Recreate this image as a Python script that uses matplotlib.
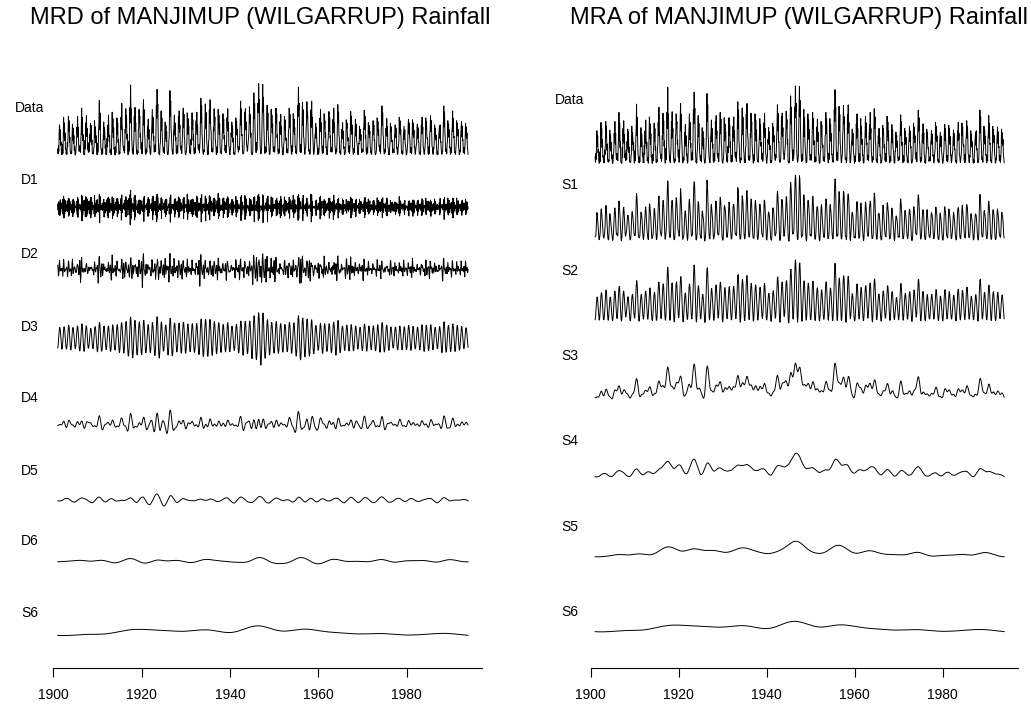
import numpy as np
import matplotlib
matplotlib.use('Agg')
import matplotlib.pyplot as plt
from math import comb

plt.rcParams['font.family'] = ['Liberation Sans', 'DejaVu Sans']

# monthly rainfall (mm), Jan..Dec, one row per year from 1901
start_year = 1901
monthly_rain = [
    [30, 8, 45, 20, 110, 141, 75, 120, 48, 62, 12, 4],
    [4, 52, 10, 78, 176, 90, 150, 70, 104, 30, 35, 8],
    [22, 6, 60, 40, 95, 180, 112, 160, 60, 85, 18, 12],
    [8, 18, 12, 90, 144, 70, 126, 55, 92, 24, 40, 6],
    [2, 12, 40, 55, 130, 102, 180, 84, 130, 45, 20, 30],
    [45, 20, 15, 80, 118, 218, 98, 175, 70, 96, 14, 5],
    [6, 4, 70, 30, 150, 96, 183, 88, 124, 28, 44, 18],
    [15, 60, 20, 96, 70, 148, 62, 138, 50, 72, 10, 8],
    [10, 8, 35, 44, 160, 84, 132, 108, 58, 90, 26, 4],
    [55, 14, 28, 110, 150, 253, 120, 196, 96, 40, 30, 20],
    [5, 30, 10, 62, 96, 154, 74, 128, 102, 34, 48, 6],
    [12, 6, 80, 40, 140, 88, 186, 110, 66, 92, 14, 22],
    [28, 4, 22, 100, 199, 108, 170, 82, 128, 30, 36, 10],
    [3, 40, 14, 58, 90, 173, 96, 150, 60, 74, 12, 6],
    [18, 10, 62, 84, 176, 120, 240, 140, 112, 52, 40, 24],
    [40, 12, 30, 120, 104, 215, 130, 182, 76, 98, 20, 4],
    [8, 66, 20, 96, 220, 150, 324, 190, 214, 80, 48, 16],
    [30, 6, 44, 70, 180, 110, 221, 120, 150, 56, 22, 10],
    [6, 22, 12, 118, 126, 212, 150, 180, 84, 102, 36, 28],
    [60, 8, 36, 80, 196, 256, 140, 210, 104, 74, 18, 6],
    [10, 30, 16, 52, 134, 88, 167, 76, 120, 36, 44, 12],
    [4, 10, 70, 96, 160, 212, 104, 176, 70, 88, 16, 20],
    [24, 50, 18, 120, 230, 170, 304, 200, 236, 96, 40, 8],
    [12, 4, 48, 60, 124, 205, 116, 172, 90, 54, 30, 16],
    [36, 14, 10, 100, 154, 80, 138, 64, 110, 28, 12, 4],
    [6, 24, 64, 90, 216, 298, 180, 250, 120, 100, 46, 20],
    [20, 6, 30, 110, 132, 186, 94, 150, 68, 84, 14, 8],
    [8, 46, 14, 64, 180, 126, 205, 108, 140, 44, 34, 24],
    [44, 10, 52, 96, 150, 218, 128, 190, 86, 70, 20, 6],
    [4, 18, 20, 72, 196, 98, 170, 104, 136, 52, 42, 12],
    [26, 8, 74, 50, 130, 196, 120, 164, 70, 96, 16, 8],
    [10, 36, 12, 116, 160, 114, 199, 96, 142, 40, 30, 26],
    [50, 12, 40, 84, 190, 263, 150, 228, 100, 80, 24, 10],
    [6, 26, 18, 100, 144, 237, 126, 198, 124, 58, 44, 6],
    [20, 6, 68, 74, 210, 150, 256, 170, 120, 104, 20, 18],
    [34, 16, 24, 128, 112, 215, 140, 178, 80, 60, 34, 4],
    [6, 40, 14, 66, 212, 124, 186, 98, 146, 48, 18, 12],
    [16, 8, 58, 90, 122, 192, 104, 168, 76, 92, 28, 20],
    [46, 12, 22, 70, 174, 128, 215, 112, 150, 42, 40, 8],
    [4, 20, 40, 104, 90, 154, 84, 136, 62, 78, 12, 6],
    [14, 6, 18, 60, 173, 100, 156, 94, 120, 36, 30, 16],
    [40, 26, 56, 112, 170, 250, 140, 214, 92, 96, 22, 8],
    [8, 10, 26, 74, 200, 124, 215, 118, 154, 50, 44, 20],
    [24, 52, 70, 96, 132, 224, 150, 188, 84, 104, 16, 6],
    [10, 6, 20, 124, 206, 288, 170, 240, 136, 70, 38, 14],
    [60, 24, 46, 90, 240, 196, 330, 220, 256, 110, 50, 20],
    [8, 14, 34, 130, 210, 327, 200, 268, 140, 90, 30, 10],
    [26, 40, 16, 66, 170, 231, 118, 196, 100, 64, 44, 6],
    [6, 8, 60, 104, 212, 130, 186, 104, 146, 40, 18, 24],
    [40, 16, 26, 80, 140, 218, 150, 192, 82, 98, 26, 8],
    [10, 30, 12, 98, 156, 100, 189, 96, 134, 46, 36, 4],
    [4, 6, 52, 60, 180, 116, 164, 90, 70, 80, 14, 18],
    [30, 12, 30, 116, 126, 218, 130, 190, 114, 56, 30, 8],
    [6, 46, 20, 74, 192, 110, 168, 96, 128, 40, 42, 12],
    [18, 8, 56, 100, 230, 180, 314, 210, 240, 100, 28, 16],
    [50, 14, 24, 84, 170, 244, 140, 210, 90, 76, 36, 6],
    [8, 34, 40, 126, 150, 247, 170, 200, 130, 58, 20, 22],
    [26, 6, 16, 70, 210, 130, 250, 150, 176, 96, 46, 8],
    [6, 20, 60, 92, 104, 148, 80, 130, 60, 40, 14, 4],
    [34, 10, 22, 64, 170, 110, 212, 120, 150, 76, 30, 12],
    [10, 44, 14, 110, 192, 124, 160, 84, 104, 36, 40, 6],
    [4, 8, 64, 76, 130, 202, 112, 174, 82, 90, 18, 20],
    [38, 16, 30, 120, 166, 104, 218, 130, 150, 50, 34, 8],
    [8, 30, 18, 70, 160, 234, 150, 200, 98, 84, 22, 12],
    [20, 6, 48, 96, 120, 88, 151, 76, 112, 34, 40, 4],
    [6, 14, 20, 60, 164, 126, 150, 100, 68, 82, 16, 18],
    [44, 10, 36, 104, 202, 116, 178, 98, 140, 46, 30, 6],
    [10, 32, 14, 80, 112, 167, 90, 144, 74, 60, 42, 10],
    [4, 6, 56, 54, 135, 78, 120, 70, 96, 30, 14, 16],
    [30, 18, 20, 116, 146, 208, 120, 180, 80, 92, 26, 6],
    [8, 36, 12, 64, 151, 100, 138, 84, 112, 38, 36, 12],
    [20, 6, 44, 88, 108, 160, 96, 140, 68, 74, 12, 4],
    [6, 14, 26, 70, 173, 110, 156, 92, 120, 42, 40, 20],
    [48, 10, 60, 120, 160, 228, 140, 196, 94, 86, 26, 8],
    [8, 28, 16, 74, 126, 92, 170, 88, 132, 40, 34, 6],
    [14, 4, 40, 58, 148, 110, 132, 76, 64, 70, 12, 16],
    [30, 16, 14, 94, 100, 141, 84, 126, 92, 34, 38, 6],
    [6, 34, 50, 66, 176, 106, 160, 96, 120, 60, 18, 10],
    [20, 6, 12, 84, 110, 135, 74, 118, 58, 46, 30, 4],
    [4, 14, 36, 62, 130, 167, 100, 150, 90, 70, 14, 18],
    [36, 10, 20, 100, 164, 96, 150, 84, 116, 36, 40, 6],
    [8, 30, 46, 56, 108, 144, 80, 128, 62, 64, 16, 10],
    [16, 4, 18, 90, 140, 100, 176, 104, 130, 40, 34, 14],
    [6, 22, 40, 66, 173, 120, 156, 90, 76, 82, 20, 6],
    [40, 8, 14, 104, 122, 183, 110, 160, 112, 44, 38, 16],
    [6, 36, 30, 58, 141, 86, 126, 72, 94, 56, 12, 4],
    [18, 6, 48, 78, 104, 132, 80, 141, 60, 66, 30, 10],
    [6, 16, 20, 96, 170, 228, 132, 200, 104, 80, 22, 18],
    [30, 8, 52, 64, 160, 96, 144, 84, 118, 38, 40, 6],
    [8, 34, 14, 110, 130, 205, 110, 170, 84, 88, 16, 12],
    [16, 6, 40, 60, 160, 100, 146, 90, 120, 42, 32, 4],
    [6, 24, 18, 86, 120, 157, 88, 136, 70, 74, 14, 20],
    [36, 8, 30, 64, 148, 90, 132, 80, 104, 40, 26, 6],
]

levels = 6
left_labels = ['Data', 'D1', 'D2', 'D3', 'D4', 'D5', 'D6', 'S6']
right_labels = ['Data', 'S1', 'S2', 'S3', 'S4', 'S5', 'S6']
tick_years = [1900, 1920, 1940, 1960, 1980]
titles = ['MRD of MANJIMUP (WILGARRUP) Rainfall', 'MRA of MANJIMUP (WILGARRUP) Rainfall']


def la8_gain(f):
    # squared gain of the MODWT LA(8) scaling filter
    c = np.cos(np.pi * f) ** 2
    s = np.sin(np.pi * f) ** 2
    return c ** 4 * sum(comb(3 + l, l) * s ** l for l in range(4))


x = np.array(monthly_rain, dtype=float).ravel()
N = len(x)
t = start_year + np.arange(N) / 12.0
freq = np.fft.fftfreq(N)
X = np.fft.fft(x)

details, smooths = [], []
acc = np.ones(N)
for j in range(1, levels + 1):
    g = la8_gain(2 ** (j - 1) * freq)
    details.append(np.real(np.fft.ifft((1 - g) * acc * X)))
    acc = acc * g
    smooths.append(np.real(np.fft.ifft(acc * X)))

left_series = [x] + details + [smooths[-1]]
right_series = [x] + smooths

# layout in figure pixels (from top)
W, H = 1031, 704
axis_y = 668
left_rows = [138, 207, 269, 338, 424, 500, 561, 632]
left_lab_y = [108, 180, 254, 327, 398, 471, 541, 613]
left_gain = [1, 1.1, 2.2, 1, 1.8, 1.2, 1.2, 1]
right_rows = [145, 222, 303, 388, 470, 552, 628]
right_lab_y = [100, 185, 271, 356, 441, 527, 612]
right_gain = [1, 1, 1, 1.6, 1.3, 1.1, 1]
px_per_mm = [0.218, 0.237]

fig = plt.figure(figsize=(W / 100, H / 100), dpi=100)

panels = [
    (53.3, 481.7, left_series, left_labels, left_rows, left_gain, left_lab_y, 30, 260),
    (590.7, 1017.7, right_series, right_labels, right_rows, right_gain, right_lab_y, 570, 799),
]
for k, (x0, x1, series, labels, rows, gains, lab_y, lab_x, title_x) in enumerate(panels):
    ax = fig.add_axes([x0 / W, (H - axis_y) / H, (x1 - x0) / W, (axis_y - 50) / H])
    ax.set_xlim(1900, 1997)
    ax.set_ylim(axis_y, 50)
    for sp in ['top', 'left', 'right']:
        ax.spines[sp].set_visible(False)
    ax.spines['bottom'].set_linewidth(0.8)
    ax.set_yticks([])
    ax.set_xticks(tick_years)
    ax.tick_params(axis='x', length=6.5, width=0.8, labelsize=10, pad=8)
    for s, row, gn in zip(series, rows, gains):
        ax.plot(t, row - gn * px_per_mm[k] * (s - s.mean()), color='black', lw=0.7)
    for lab, ly in zip(labels, lab_y):
        fig.text(lab_x / W, 1 - ly / H, lab, ha='center', va='center', fontsize=10)
    fig.text(title_x / W, 1 - 18 / H, titles[k], ha='center', va='center', fontsize=17)

fig.savefig('out.png', dpi=100)
